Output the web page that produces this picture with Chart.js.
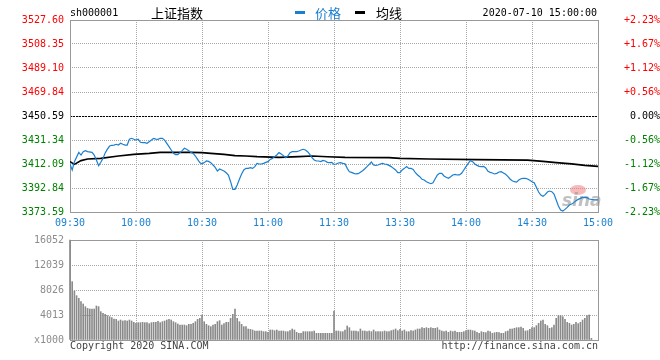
<!DOCTYPE html>
<html><head><meta charset="utf-8">
<script src="https://cdn.jsdelivr.net/npm/chart.js@4/dist/chart.umd.min.js"></script>
<style>
html,body{margin:0;padding:0;background:#fff;}
body{width:660px;height:360px;overflow:hidden;position:relative;}
canvas{position:absolute;left:0;}
#c1{top:0;width:660px;height:235px;}
#c2{top:225px;width:660px;height:135px;}
.t{position:absolute;white-space:nowrap;font-family:"DejaVu Sans Mono",monospace;font-size:10px;line-height:12px;color:#000;}
.cjk{position:absolute;white-space:nowrap;font-family:"Noto Sans CJK SC",sans-serif;font-size:13px;line-height:16px;color:#000;}
.dash{position:absolute;width:10px;height:3px;}
</style></head><body>
<canvas id="c1" width="660" height="235"></canvas>
<canvas id="c2" width="660" height="135"></canvas>
<div class="t" style="left:70px;top:7px;">sh000001</div>
<div class="cjk" style="left:151px;top:5px;">上证指数</div>
<div class="dash" style="left:295px;top:11px;background:#1a7fd0;"></div>
<div class="cjk" style="left:315px;top:5px;color:#1a7fd0;">价格</div>
<div class="dash" style="left:355px;top:11px;background:#000;"></div>
<div class="cjk" style="left:376px;top:5px;">均线</div>
<div class="t" style="right:63px;top:7px;">2020-07-10 15:00:00</div>
<div class="t" style="left:70px;top:340px;color:#444;">Copyright 2020 SINA.COM</div>
<div class="t" style="right:62px;top:340px;color:#444;">http://finance.sina.com.cn</div>
<script>
// ---- data ----
const prevClose = 3450.59;
const priceTicks = [3373.59, 3392.84, 3412.09, 3431.34, 3450.59, 3469.84, 3489.10, 3508.35, 3527.60];
const pctLabels = ['-2.23%','-1.67%','-1.12%','-0.56%','0.00%','+0.56%','+1.12%','+1.67%','+2.23%'];
const timeTickMinutes = [0, 30, 60, 90, 120, 150, 180, 210, 240];
const timeLabels = ['09:30','10:00','10:30','11:00','11:30','13:30','14:00','14:30','15:00'];
const volTicks = [0, 4013, 8026, 12039, 16052];
const volLabels = ['x1000','4013','8026','12039','16052'];

// price per minute index (null = not read)
const prices = [
3412.0,3407.3,3414.0,null,3421.4,3419.3,3422.0,3422.8,3422.0,null,
3421.4,3419.3,3415.3,3410.8,3413.5,3416.6,3421.0,3424.0,3426.5,3427.1,
3427.3,3427.9,3427.3,3428.7,3427.9,3427.3,3427.3,3431.9,3432.7,3431.9,
3431.3,3431.9,3429.5,3429.2,3429.2,3428.7,3430.0,3431.3,3432.7,3432.1,
3431.9,3432.7,3432.7,3431.3,3428.7,3426.0,3423.3,3420.6,3419.6,3419.6,
3421.2,3422.8,3424.7,3423.9,3422.8,3421.4,3420.6,3418.5,3415.8,3413.2,
3412.1,3413.2,3414.5,3414.2,3413.2,3411.3,3409.4,3406.5,3408.1,3407.3,
3406.5,3405.1,3403.3,3397.9,3391.8,3391.8,3395.3,3399.8,3404.1,3407.3,
3408.6,3408.6,3409.1,3408.6,3410.0,3412.6,3412.1,3412.1,3412.6,3413.4,
3414.0,3415.8,3416.6,3418.0,3419.3,3421.2,3420.1,3418.8,3417.2,3418.5,
3421.2,3422.0,3422.0,3422.0,3422.5,3423.3,3423.9,3423.3,3422.0,3419.8,
3417.2,3415.3,3414.5,3414.5,3414.0,3415.0,3414.5,3413.4,3413.2,3413.4,
3411.8,3412.1,3412.9,3413.2,3412.6,3412.3,3408.6,3405.9,3405.4,3404.6,
3404.1,3404.3,3405.4,3406.7,3408.3,3410.0,3411.8,3413.7,3411.3,3411.0,
3411.3,3412.1,3412.6,3412.1,3411.8,3411.0,3410.0,3408.6,3407.3,3405.1,
3405.1,3407.3,3408.6,3410.0,3408.6,3408.6,3407.8,3405.1,3403.3,3401.9,
3399.8,3399.3,3397.9,3397.1,3396.3,3397.1,3400.3,3403.3,3404.6,3404.6,
3402.5,3401.4,3400.6,3401.9,3403.3,3403.8,3403.3,3403.3,3404.6,3407.3,
3410.0,3412.6,3414.8,3414.0,3412.1,3411.0,3410.2,3410.0,3410.2,3408.9,
3406.2,3405.4,3404.9,3404.1,3404.6,3405.7,3405.9,3404.9,3403.8,3402.2,
3400.1,3398.7,3397.9,3397.6,3399.3,3400.3,3400.6,3400.6,3400.1,3399.0,
3397.9,3397.1,3393.4,3389.6,3387.2,3386.2,3387.5,3389.6,3390.4,3389.9,
3388.0,3383.2,3378.4,3375.2,3374.4,3375.7,3377.3,3379.2,3380.0,3381.1,
3382.7,3383.7,3384.5,3385.3,3385.3,3385.1,3384.0,3383.7,3383.5,3383.4,
3383.3
];

// average line, read at these minutes
const avgMinutes = [0,2,5,8,14,22,29,36,41,55,60,64,70,75,80,85,95,104,110,117,125,145,150,163,185,208,215,221,228,234,240];
const avgValues = [3414.0,3411.8,3414.8,3416.1,3416.6,3418.5,3419.8,3420.6,3421.4,3421.4,3421.2,3420.6,3419.8,3418.8,3418.5,3418.0,3417.4,3418.0,3418.5,3417.9,3417.4,3417.2,3416.6,3416.1,3415.6,3415.2,3414.2,3413.2,3412.2,3411.0,3410.2];

// volume per minute index (x1000)
const volumes = [
16052,9364,7865,7116,6688,6153,5779,5351,5083,4976,
4976,4976,5458,5351,4548,4281,4120,3906,3745,3585,
3371,3317,3050,3210,3050,3103,3050,3210,3050,2836,
2675,2782,2782,2836,2782,2782,2622,2782,2836,2836,
2996,2782,2943,3050,3210,3317,3210,2943,2782,2568,
2408,2408,2408,2301,2515,2515,2675,2943,3317,3478,
4013,2943,2515,2301,2140,2408,2515,2943,3103,2408,
2622,2836,2836,3478,4120,4976,3478,2943,2515,2140,
2140,1766,1712,1605,1445,1445,1445,1445,1338,1338,
1231,1605,1605,1498,1605,1445,1445,1445,1338,1338,
1498,1766,1605,1231,1070,1070,1338,1338,1338,1338,
1338,1445,1070,1070,1070,1070,1070,1070,1070,1070,
4655,1445,1445,1338,1338,1605,2247,1980,1445,1445,
1445,1338,1766,1445,1445,1338,1445,1338,1605,1338,
1338,1338,1338,1445,1338,1338,1498,1605,1766,1498,
1712,1445,1605,1338,1338,1498,1445,1605,1766,1766,
1980,1873,1980,1873,1980,1873,1873,1980,1605,1445,
1338,1445,1231,1445,1338,1445,1231,1231,1231,1338,
1498,1605,1605,1498,1445,1231,1070,1338,1231,1177,
1445,1338,1070,1177,1231,1177,1070,1070,1338,1445,
1766,1766,1873,1980,1980,2087,1873,1445,1498,1712,
1980,1980,2301,2675,3050,3210,2515,2301,1873,1980,
2408,3478,3906,3906,3745,3317,2836,2675,2408,2515,
2836,2622,2836,3210,3478,3906,4013,267,null,null,
null
];

// ---- styles ----
const MONO = '"DejaVu Sans Mono", monospace';
const BLUE = '#1a7fd0';
const RED = '#ff0000';
const GREEN = '#008000';
const GRID = '#a8a8a8';
const FRAME = '#999999';

const framePlugin = {
  id: 'frame',
  beforeDatasetsDraw(chart, args, opts) {
    const {ctx, chartArea: a} = chart;
    ctx.save();
    if (opts.prevLine) {
      const y = Math.round(chart.scales.y.getPixelForValue(prevClose)) + 0.5;
      ctx.strokeStyle = '#000';
      ctx.lineWidth = 1;
      ctx.setLineDash([2, 1]);
      ctx.beginPath(); ctx.moveTo(a.left, y); ctx.lineTo(a.right, y); ctx.stroke();
      ctx.setLineDash([]);
    }
    if (opts.logo) {
      ctx.fillStyle = 'rgba(240,130,130,0.55)';
      ctx.beginPath();
      ctx.ellipse(a.right - 20, a.bottom - 22, 8, 5, 0, 0, Math.PI * 2);
      ctx.fill();
      ctx.font = 'italic bold 17px "DejaVu Sans", sans-serif';
      ctx.fillStyle = 'rgba(150,150,150,0.6)';
      ctx.textAlign = 'left';
      ctx.textBaseline = 'alphabetic';
      ctx.fillText('sina', a.right - 36, a.bottom - 6);
    }
    ctx.strokeStyle = FRAME;
    ctx.lineWidth = 1;
    ctx.strokeRect(a.left + 0.5, a.top + 0.5, a.right - a.left, a.bottom - a.top);
    ctx.restore();
  }
};

const tickColor = c => {
  const v = c.tick ? c.tick.value : prevClose;
  if (v > prevClose + 0.001) return RED;
  if (v < prevClose - 0.001) return GREEN;
  return '#000';
};

new Chart(document.getElementById('c1'), {
  type: 'line',
  data: {
    datasets: [
      { label: '均线', data: avgMinutes.map((m, i) => ({x: m, y: avgValues[i]})),
        borderColor: '#000', borderWidth: 1.6, pointRadius: 0, tension: 0, order: 2 },
      { label: '价格', data: prices.map((v, i) => ({x: i, y: v})),
        borderColor: BLUE, borderWidth: 1.2, pointRadius: 0, tension: 0, spanGaps: true, order: 1 }
    ]
  },
  options: {
    responsive: false, animation: false, events: [],
    layout: {padding: {top: 20, left: 0, right: 0, bottom: 0}},
    plugins: {legend: {display: false}, tooltip: {enabled: false}, frame: {prevLine: true, logo: true}},
    scales: {
      x: {
        type: 'linear', min: 0, max: 240,
        afterBuildTicks: s => { s.ticks = timeTickMinutes.map(v => ({value: v})); },
        afterFit: s => { s.height = 23; },
        ticks: {callback: (v, i) => timeLabels[i], color: BLUE, font: {family: MONO, size: 10}, padding: 5, maxRotation: 0, autoSkip: false},
        grid: {color: GRID, drawTicks: false, lineWidth: 1},
        border: {display: false, dash: [1, 1]}
      },
      y: {
        position: 'left', min: priceTicks[0], max: priceTicks[priceTicks.length - 1],
        afterBuildTicks: s => { s.ticks = priceTicks.map(v => ({value: v})); },
        afterFit: s => { s.width = 70; },
        ticks: {callback: (v, i) => priceTicks[i].toFixed(2), color: tickColor, font: {family: MONO, size: 10}, padding: 6, autoSkip: false},
        grid: {color: GRID, drawTicks: false, lineWidth: 1},
        border: {display: false, dash: [1, 1]}
      },
      y2: {
        position: 'right', min: priceTicks[0], max: priceTicks[priceTicks.length - 1],
        afterBuildTicks: s => { s.ticks = priceTicks.map(v => ({value: v})); },
        afterFit: s => { s.width = 62; },
        ticks: {callback: (v, i) => pctLabels[i], color: tickColor, font: {family: MONO, size: 10}, padding: 4, autoSkip: false, crossAlign: 'far'},
        grid: {display: false, drawTicks: false},
        border: {display: false}
      }
    }
  },
  plugins: [framePlugin]
});

new Chart(document.getElementById('c2'), {
  type: 'bar',
  data: {
    datasets: [{ data: volumes.map((v, i) => ({x: i, y: v})), backgroundColor: '#8a8a8a', borderWidth: 0, barThickness: 1, clip: 2 }]
  },
  options: {
    responsive: false, animation: false, events: [],
    layout: {padding: {top: 15, left: 0, right: 62, bottom: 0}},
    plugins: {legend: {display: false}, tooltip: {enabled: false}, frame: {prevLine: false, logo: false}},
    scales: {
      x: {
        type: 'linear', min: 0, max: 240, offset: false,
        afterBuildTicks: s => { s.ticks = timeTickMinutes.map(v => ({value: v})); },
        afterFit: s => { s.height = 20; },
        ticks: {display: false},
        grid: {color: GRID, drawTicks: false, lineWidth: 1, offset: false},
        border: {display: false, dash: [1, 1]}
      },
      y: {
        position: 'left', min: 0, max: volTicks[volTicks.length - 1],
        afterBuildTicks: s => { s.ticks = volTicks.map(v => ({value: v})); },
        afterFit: s => { s.width = 70; },
        ticks: {callback: (v, i) => volLabels[i], color: '#8c8c8c', font: {family: MONO, size: 10}, padding: 6, autoSkip: false},
        grid: {color: GRID, drawTicks: false, lineWidth: 1},
        border: {display: false, dash: [1, 1]}
      }
    }
  },
  plugins: [framePlugin]
});
</script>
</body></html>
